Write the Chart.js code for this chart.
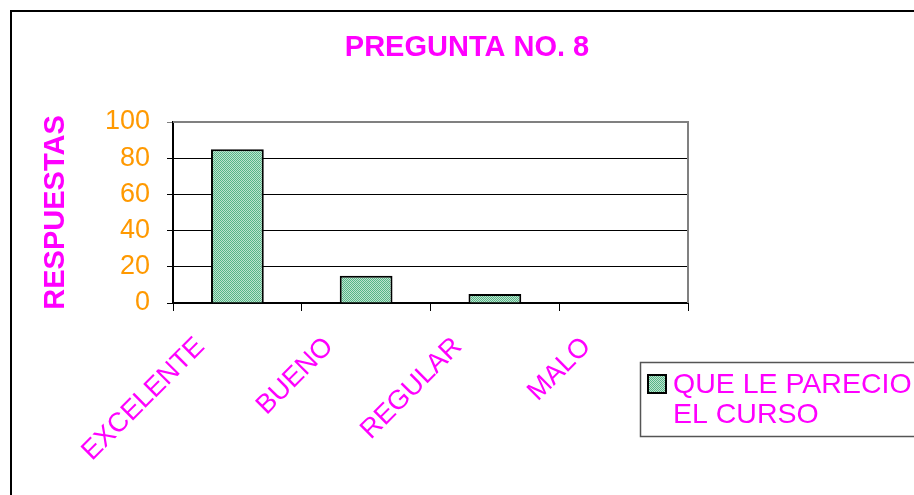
<!DOCTYPE html>
<html>
<head>
<meta charset="utf-8">
<script src="https://cdn.jsdelivr.net/npm/chart.js@4/dist/chart.umd.min.js"></script>
<style>
  html, body { margin: 0; padding: 0; background: #fff; }
  #wrap { position: relative; width: 914px; height: 495px; }
</style>
</head>
<body>
<div id="wrap"><canvas id="c" width="914" height="495"></canvas></div>
<script>
const chartTitle = 'PREGUNTA NO. 8';
const yAxisTitle = 'RESPUESTAS';
const categories = ['EXCELENTE', 'BUENO', 'REGULAR', 'MALO'];
const seriesLabel = ['QUE LE PARECIO', 'EL CURSO'];
const seriesValues = [85, 15, 5, 0];
const yTicks = [0, 20, 40, 60, 80, 100];

const MAGENTA = '#FF00FF';
const ORANGE = '#FF9900';
const FONT = '"Liberation Sans", Arial, sans-serif';

function makePattern() {
  const p = document.createElement('canvas');
  p.width = 2; p.height = 2;
  const g = p.getContext('2d');
  g.fillStyle = '#bfe3cf'; g.fillRect(0, 0, 2, 2);
  g.fillStyle = '#55b587'; g.fillRect(0, 0, 1, 1); g.fillRect(1, 1, 1, 1);
  return g.createPattern(p, 'repeat');
}
const barFill = makePattern();

const framePlugin = {
  id: 'frame',
  beforeDraw(chart) {
    const ctx = chart.ctx;
    ctx.save();
    ctx.fillStyle = '#fff';
    ctx.fillRect(0, 0, chart.width, chart.height);
    ctx.strokeStyle = '#000';
    ctx.lineWidth = 2;
    ctx.beginPath();
    ctx.moveTo(11, 500); ctx.lineTo(11, 11); ctx.lineTo(920, 11);
    ctx.stroke();
    ctx.restore();
  },
  afterDraw(chart) {
    const ctx = chart.ctx;
    const a = chart.chartArea;
    ctx.save();
    ctx.strokeStyle = '#808080';
    ctx.lineWidth = 2;
    ctx.beginPath();
    ctx.moveTo(a.left, a.top); ctx.lineTo(a.right, a.top); ctx.lineTo(a.right, a.bottom);
    ctx.stroke();
    ctx.fillStyle = MAGENTA;
    ctx.font = 'bold 29px ' + FONT;
    ctx.textAlign = 'center';
    ctx.textBaseline = 'alphabetic';
    ctx.fillText(chartTitle, 467, 56);
    ctx.strokeStyle = '#555';
    ctx.lineWidth = 1.5;
    ctx.strokeRect(640.5, 362.5, 300, 74);
    const ds = chart.data.datasets[0];
    ctx.fillStyle = ds.backgroundColor;
    ctx.fillRect(648, 375, 18, 18);
    ctx.strokeStyle = '#000';
    ctx.lineWidth = 2;
    ctx.strokeRect(648, 375, 18, 18);
    ctx.fillStyle = MAGENTA;
    ctx.font = '28.5px ' + FONT;
    ctx.textAlign = 'left';
    const lbl = Array.isArray(ds.label) ? ds.label : [ds.label];
    lbl.forEach((t, i) => ctx.fillText(t, 673, 393 + i * 30));
    ctx.restore();
  }
};

new Chart(document.getElementById('c'), {
  type: 'bar',
  data: {
    labels: categories,
    datasets: [{
      label: seriesLabel,
      data: seriesValues,
      backgroundColor: barFill,
      borderColor: '#000',
      borderWidth: 2,
      borderSkipped: 'bottom',
      barPercentage: 0.41,
      categoryPercentage: 1.0
    }]
  },
  options: {
    responsive: false,
    animation: false,
    devicePixelRatio: 1,
    layout: { padding: { top: 122, right: 226, left: 0, bottom: 0 } },
    plugins: {
      legend: { display: false },
      title: { display: false },
      tooltip: { enabled: false }
    },
    scales: {
      x: {
        afterFit(s) { s.height = 192; },
        grid: {
          offset: true,
          drawOnChartArea: false,
          drawTicks: true,
          tickLength: 8,
          color: '#000',
          lineWidth: 1
        },
        border: { display: true, color: '#000', width: 2 },
        ticks: {
          color: MAGENTA,
          font: { family: FONT, size: 27 },
          minRotation: 45,
          maxRotation: 45,
          autoSkip: false,
          padding: 20,
          labelOffset: -37
        }
      },
      y: {
        min: 0,
        max: 100,
        afterFit(s) { s.width = 173; },
        afterBuildTicks(s) { s.ticks = yTicks.map(v => ({ value: v })); },
        grid: {
          color: (c) => (c.tick && c.tick.value === 100 ? '#808080' : '#000'),
          lineWidth: 1,
          tickLength: 6
        },
        border: { display: true, color: '#000', width: 2 },
        ticks: {
          color: ORANGE,
          font: { family: FONT, size: 27 },
          padding: 17
        },
        title: {
          display: true,
          text: yAxisTitle,
          color: MAGENTA,
          font: { family: FONT, size: 29, weight: 'bold' },
          padding: { top: 39, bottom: 0 }
        }
      }
    }
  },
  plugins: [framePlugin]
});
</script>
</body>
</html>
